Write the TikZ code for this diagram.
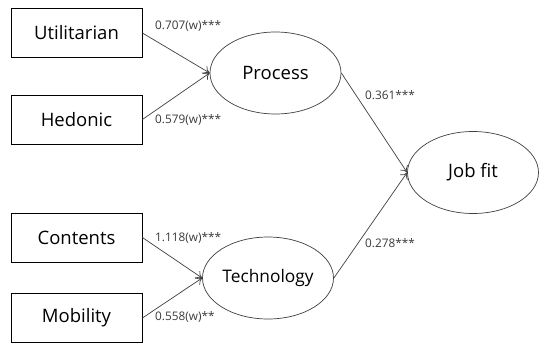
\documentclass[tikz,border=0pt]{standalone}
\usepackage{fontspec}
\setmainfont{Open Sans}
\usetikzlibrary{arrows.meta,shapes.geometric}
\definecolor{edgegray}{HTML}{404040}
\definecolor{labelgray}{HTML}{3A3A3A}
\begin{document}
\begin{tikzpicture}[x=1pt,y=-1pt,
  var/.style={draw=black,line width=0.8pt,minimum width=131pt,minimum height=49pt,inner sep=0pt,font=\fontsize{18.5}{22}\selectfont},
  latent/.style={draw=edgegray,line width=0.7pt,ellipse,minimum width=131pt,minimum height=82pt,inner sep=0pt,font=\fontsize{18.5}{22}\selectfont},
  path/.style={draw=edgegray,line width=0.7pt,-{To[length=6pt,width=9pt]}},
  coef/.style={font=\fontsize{11.8}{14}\selectfont,text=labelgray,inner sep=0pt,anchor=west}]
\useasboundingbox[fill=white] (0,0) rectangle (540,343);
% indicators
\node[var] (util) at (76.5,33) {Utilitarian};
\node[var] (hedo) at (76.5,119.5) {Hedonic};
\node[var] (cont) at (76.5,237.5) {Contents};
\node[var] (mobi) at (76.5,318) {Mobility};
% latent constructs
\node[latent] (proc) at (275.5,73) {Process};
\node[latent,font=\fontsize{17.3}{20}\selectfont] (tech) at (268,278) {Technology};
\node[latent] (job) at (473,172.5) {Job fit};
% paths
\draw[path] (util.east) -- (proc.west);
\draw[path] (hedo.east) -- (proc.west);
\draw[path] (cont.east) -- (tech.west);
\draw[path] (mobi.east) -- (tech.west);
\draw[path] (proc.east) -- (job.west);
\draw[path] (tech.east) -- (job.west);
% coefficients
\node[coef] (c1) at (155,26) {0.707(w)***};
\node[coef] (c2) at (155,120) {0.579(w)***};
\node[coef] (c3) at (155,238) {1.118(w)***};
\node[coef] (c4) at (155,317) {0.558(w)**};
\node[coef] (c5) at (365,95) {0.361***};
\node[coef] (c6) at (365,243) {0.278***};
\end{tikzpicture}
\end{document}
